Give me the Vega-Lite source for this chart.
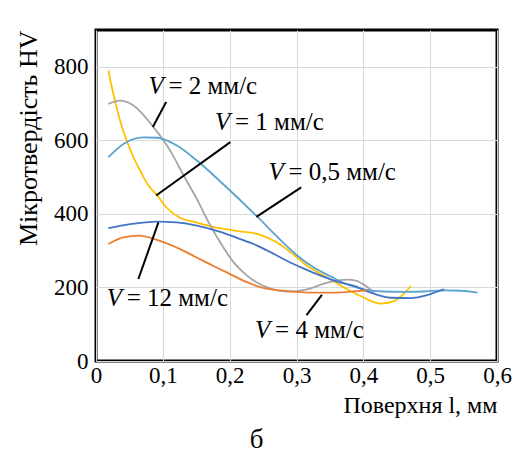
{
  "$schema": "https://vega.github.io/schema/vega-lite/v6.json",
  "autosize": {"type": "none"},
  "padding": {"left": 96, "top": 30, "right": 16, "bottom": 97},
  "width": 401,
  "height": 331,
  "background": "white",
  "title": {"text": "б", "orient": "bottom", "anchor": "middle", "dx": -40, "offset": 10, "fontSize": 27, "font": "'Liberation Serif', 'Times New Roman', serif", "fontWeight": "normal", "color": "black"},
  "config": {
    "view": {"stroke": "black", "strokeWidth": 3},
    "font": "'Liberation Serif', 'Times New Roman', serif",
    "text": {"font": "'Liberation Serif', 'Times New Roman', serif"},
    "axis": {"labelFont": "'Liberation Serif', 'Times New Roman', serif", "titleFont": "'Liberation Serif', 'Times New Roman', serif", "labelColor": "black", "titleColor": "black", "titleFontWeight": "normal", "labelFontWeight": "normal", "gridColor": "#d9d9d9", "gridWidth": 1, "domain": false, "ticks": false}
  },
  "datasets": {
    "curves": [
      {"s": "1", "x": 0.0185, "y": 790}, {"s": "1", "x": 0.026, "y": 726}, {"s": "1", "x": 0.036, "y": 654}, {"s": "1", "x": 0.046, "y": 599}, {"s": "1", "x": 0.056, "y": 554}, {"s": "1", "x": 0.066, "y": 518}, {"s": "1", "x": 0.0785, "y": 477}, {"s": "1", "x": 0.091, "y": 452}, {"s": "1", "x": 0.105, "y": 418}, {"s": "1", "x": 0.125, "y": 390}, {"s": "1", "x": 0.15, "y": 377}, {"s": "1", "x": 0.175, "y": 365}, {"s": "1", "x": 0.21, "y": 354}, {"s": "1", "x": 0.246, "y": 343}, {"s": "1", "x": 0.271, "y": 322}, {"s": "1", "x": 0.291, "y": 296}, {"s": "1", "x": 0.316, "y": 259}, {"s": "1", "x": 0.346, "y": 227}, {"s": "1", "x": 0.376, "y": 195}, {"s": "1", "x": 0.401, "y": 172}, {"s": "1", "x": 0.426, "y": 156}, {"s": "1", "x": 0.445, "y": 162}, {"s": "1", "x": 0.46, "y": 182}, {"s": "1", "x": 0.471, "y": 204},
      {"s": "2", "x": 0.0185, "y": 699}, {"s": "2", "x": 0.036, "y": 708}, {"s": "2", "x": 0.056, "y": 695}, {"s": "2", "x": 0.086, "y": 636}, {"s": "2", "x": 0.111, "y": 572}, {"s": "2", "x": 0.131, "y": 505}, {"s": "2", "x": 0.151, "y": 440}, {"s": "2", "x": 0.17, "y": 372}, {"s": "2", "x": 0.186, "y": 322}, {"s": "2", "x": 0.206, "y": 268}, {"s": "2", "x": 0.226, "y": 232}, {"s": "2", "x": 0.256, "y": 200}, {"s": "2", "x": 0.286, "y": 189}, {"s": "2", "x": 0.316, "y": 195}, {"s": "2", "x": 0.346, "y": 213}, {"s": "2", "x": 0.376, "y": 221}, {"s": "2", "x": 0.39, "y": 218}, {"s": "2", "x": 0.403, "y": 205}, {"s": "2", "x": 0.416, "y": 186},
      {"s": "0.5", "x": 0.0185, "y": 554}, {"s": "0.5", "x": 0.041, "y": 590}, {"s": "0.5", "x": 0.071, "y": 608}, {"s": "0.5", "x": 0.091, "y": 607}, {"s": "0.5", "x": 0.121, "y": 586}, {"s": "0.5", "x": 0.151, "y": 545}, {"s": "0.5", "x": 0.186, "y": 488}, {"s": "0.5", "x": 0.241, "y": 393}, {"s": "0.5", "x": 0.271, "y": 338}, {"s": "0.5", "x": 0.301, "y": 287}, {"s": "0.5", "x": 0.326, "y": 254}, {"s": "0.5", "x": 0.351, "y": 230}, {"s": "0.5", "x": 0.376, "y": 208}, {"s": "0.5", "x": 0.401, "y": 195}, {"s": "0.5", "x": 0.431, "y": 189}, {"s": "0.5", "x": 0.461, "y": 188}, {"s": "0.5", "x": 0.491, "y": 189}, {"s": "0.5", "x": 0.521, "y": 192}, {"s": "0.5", "x": 0.546, "y": 191}, {"s": "0.5", "x": 0.571, "y": 186},
      {"s": "12", "x": 0.0185, "y": 361}, {"s": "12", "x": 0.051, "y": 372}, {"s": "12", "x": 0.091, "y": 379}, {"s": "12", "x": 0.121, "y": 377}, {"s": "12", "x": 0.151, "y": 368}, {"s": "12", "x": 0.186, "y": 351}, {"s": "12", "x": 0.211, "y": 335}, {"s": "12", "x": 0.236, "y": 318}, {"s": "12", "x": 0.261, "y": 296}, {"s": "12", "x": 0.286, "y": 272}, {"s": "12", "x": 0.311, "y": 251}, {"s": "12", "x": 0.336, "y": 232}, {"s": "12", "x": 0.361, "y": 216}, {"s": "12", "x": 0.386, "y": 204}, {"s": "12", "x": 0.411, "y": 186}, {"s": "12", "x": 0.441, "y": 172}, {"s": "12", "x": 0.471, "y": 171}, {"s": "12", "x": 0.491, "y": 177}, {"s": "12", "x": 0.511, "y": 189}, {"s": "12", "x": 0.521, "y": 195},
      {"s": "4", "x": 0.0185, "y": 318}, {"s": "4", "x": 0.041, "y": 336}, {"s": "4", "x": 0.065, "y": 341}, {"s": "4", "x": 0.09, "y": 330}, {"s": "4", "x": 0.125, "y": 305}, {"s": "4", "x": 0.15, "y": 282}, {"s": "4", "x": 0.175, "y": 259}, {"s": "4", "x": 0.2, "y": 237}, {"s": "4", "x": 0.225, "y": 215}, {"s": "4", "x": 0.25, "y": 199}, {"s": "4", "x": 0.286, "y": 190}, {"s": "4", "x": 0.326, "y": 186}, {"s": "4", "x": 0.36, "y": 186}, {"s": "4", "x": 0.39, "y": 190}, {"s": "4", "x": 0.405, "y": 192}
    ],
    "leaders": [
      {"x": 0.105, "y": 704, "x2": 0.085, "y2": 636},
      {"x": 0.201, "y": 595, "x2": 0.09, "y2": 450},
      {"x": 0.307, "y": 472, "x2": 0.24, "y2": 392},
      {"x": 0.0934, "y": 377, "x2": 0.0634, "y2": 223},
      {"x": 0.338, "y": 180, "x2": 0.315, "y2": 125}
    ],
    "labels": [
      {"x": 0.0784, "y": 727, "rest": "= 2 мм/с"},
      {"x": 0.178, "y": 627, "rest": "= 1 мм/с"},
      {"x": 0.258, "y": 492, "rest": "= 0,5 мм/с"},
      {"x": 0.016, "y": 150, "rest": "= 12 мм/с"},
      {"x": 0.238, "y": 63, "rest": "= 4 мм/с"}
    ]
  },
  "layer": [
    {
      "data": {"name": "curves"},
      "mark": {"type": "line", "interpolate": "monotone", "strokeWidth": 1.8},
      "encoding": {
        "x": {"field": "x", "type": "quantitative", "scale": {"domain": [0, 0.6], "nice": false},
          "axis": {"values": [0, 0.1, 0.2, 0.3, 0.4, 0.5, 0.6], "labelExpr": "replace(format(datum.value, '.1~f'), '.', ',')", "labelFontSize": 23, "labelPadding": 3, "title": "Поверхня l, мм", "titleFontSize": 24, "titleAnchor": "end", "titlePadding": 6, "labelFlush": false}},
        "y": {"field": "y", "type": "quantitative", "scale": {"domain": [0, 900], "nice": false},
          "axis": {"values": [0, 100, 200, 300, 400, 500, 600, 700, 800, 900], "labelExpr": "datum.value % 200 === 0 ? datum.label : ''", "labelFontSize": 23, "labelPadding": 8, "title": "Мікротвердість HV", "titleFontSize": 26, "titleAnchor": "end", "titlePadding": 12, "labelFlush": false}},
        "color": {"field": "s", "type": "nominal", "legend": null,
          "scale": {"domain": ["1", "2", "0.5", "12", "4"], "range": ["#ffc000", "#a5a5a5", "#5ba3d0", "#4472c4", "#ed7d31"]}},
        "order": {"field": "x", "type": "quantitative"}
      }
    },
    {
      "data": {"name": "leaders"},
      "mark": {"type": "rule", "color": "black", "strokeWidth": 2},
      "encoding": {
        "x": {"field": "x", "type": "quantitative"},
        "y": {"field": "y", "type": "quantitative"},
        "x2": {"field": "x2"},
        "y2": {"field": "y2"}
      }
    },
    {
      "data": {"name": "labels"},
      "mark": {"type": "text", "text": "V", "fontStyle": "italic", "fontSize": 25, "align": "left", "baseline": "alphabetic", "font": "'Liberation Serif', 'Times New Roman', serif", "color": "black"},
      "encoding": {
        "x": {"field": "x", "type": "quantitative"},
        "y": {"field": "y", "type": "quantitative"}
      }
    },
    {
      "data": {"name": "labels"},
      "mark": {"type": "text", "fontSize": 25, "align": "left", "baseline": "alphabetic", "dx": 20, "font": "'Liberation Serif', 'Times New Roman', serif", "color": "black"},
      "encoding": {
        "x": {"field": "x", "type": "quantitative"},
        "y": {"field": "y", "type": "quantitative"},
        "text": {"field": "rest"}
      }
    }
  ]
}
